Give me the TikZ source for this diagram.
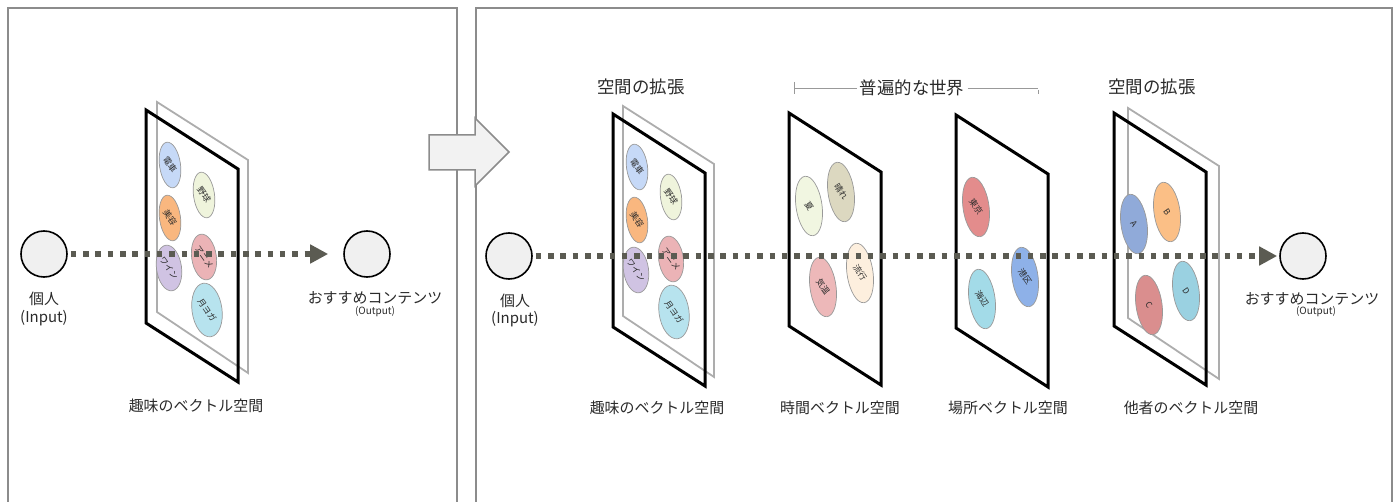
\documentclass[tikz,border=0pt]{standalone}
\usepackage{fontspec}
\newfontfamily\jp{Noto Sans CJK JP}
\usetikzlibrary{shapes.geometric,arrows.meta}
\definecolor{dashgray}{HTML}{5B5B52}
\definecolor{txt}{HTML}{2A2A2A}
\definecolor{cDen}{HTML}{C6D9F7}
\definecolor{cYak}{HTML}{EFF4DC}
\definecolor{cBiy}{HTML}{F9B77F}
\definecolor{cAni}{HTML}{EBB3B6}
\definecolor{cWin}{HTML}{D0C3E3}
\definecolor{cYog}{HTML}{B7E3EE}
\definecolor{cNat}{HTML}{F1F6E1}
\definecolor{cHar}{HTML}{DCD8C0}
\definecolor{cKio}{HTML}{EDB8B9}
\definecolor{cRyu}{HTML}{FDEFDE}
\definecolor{cTok}{HTML}{E38C8C}
\definecolor{cMin}{HTML}{8EB1E8}
\definecolor{cUmi}{HTML}{A3DBE8}
\definecolor{cA}{HTML}{90AAD9}
\definecolor{cB}{HTML}{FBBF86}
\definecolor{cC}{HTML}{DA8E8E}
\definecolor{cD}{HTML}{9AD1E1}
\tikzset{
    PN/.style ={draw=black!45, line width=1.5bp},
    PF/.style ={draw=black, line width=3bp, line join=miter},
    PB/.style ={draw=black!32, line width=1.8bp},
    CI/.style ={circle, minimum size=46bp, inner sep=0pt, draw=black, line width=1.6bp, fill=black!6},
    ES/.style ={ellipse, draw=black!40, line width=0.7bp, inner sep=0pt, minimum width=21bp, minimum height=46bp, rotate=8, font=\jp\fontsize{8.5}{8.5}\selectfont, text=txt},
    EB/.style ={ES, minimum width=26bp, minimum height=60bp},
    DA/.style ={draw=dashgray, line width=5.5bp, dash pattern=on 5.5bp off 6.8bp, -{Triangle[length=18bp,width=18bp]}},
    LB/.style ={font=\jp\fontsize{15}{15}\selectfont, text=txt, inner sep=0pt},
    LS/.style ={font=\jp\fontsize{10}{11}\selectfont, text=txt, inner sep=0pt},
    HD/.style ={font=\jp\fontsize{17.5}{18}\selectfont, text=txt, inner sep=3bp},
    BR/.style ={draw=black!40, line width=0.8bp}}

\begin{document}
\begin{tikzpicture}[x=1bp, y=-1bp]
        \useasboundingbox (0,0) rectangle (1399,502);
        % panels and big arrow
        \draw[PN] (8,502) -- (8,8) -- (457,8) -- (457,502);
        \draw[PN] (476,502) -- (476,8) -- (1392,8) -- (1392,502);
        \draw[PN, fill=black!5] (429,135) -- (475,135) -- (475,118) -- (509,152)
            -- (475,186) -- (475,170) -- (429,170) -- cycle;
        % back planes
        \foreach \px/\py in {157/102, 623/106, 1128/108}{
            \draw[PB, shift={(\px,\py)}] (0,0) -- (91,58) -- (91,271) -- (0,210) -- cycle;}
        % front planes
        \foreach \px/\py in {146/110, 613/114, 789/113, 956/115, 1114/113}{
            \draw[PF, shift={(\px,\py)}] (0,0) -- (92,59) -- (92,272) -- (0,213) -- cycle;}
        % left panel
        \node[CI] (inL) at (44,254) {};
        \node[CI] (outL) at (367,254) {};
        \node[LB] (inLa) at (44,299) {個人};
        \node[LB] (inLb) at (44,318) {(Input)};
        \node[LB] (outLa) at (375,298) {おすすめコンテンツ};
        \node[LS] (outLb) at (375,312) {(Output)};
        \node[ES, fill=cDen] (l1) at (170,165) {\rotatebox{-63}{電車}};
        \node[ES, fill=cYak] (l2) at (204,195) {\rotatebox{-63}{野球}};
        \node[ES, fill=cBiy] (l3) at (170,218) {\rotatebox{-63}{美容}};
        \node[ES, fill=cAni] (l4) at (204,257) {\rotatebox{-63}{アニメ}};
        \node[ES, fill=cWin] (l5) at (169,268) {\rotatebox{-63}{ワイン}};
        \node[ES, fill=cYog, minimum width=30bp, minimum height=54bp] (l6) at (207,310) {\rotatebox{-63}{月ヨガ}};
        \node[LB] (hobL) at (196,406) {趣味のベクトル空間};
        % right panel
        \node[CI] (inR) at (509,256) {};
        \node[CI] (outR) at (1303,256) {};
        \node[LB] (inRa) at (515,301) {個人};
        \node[LB] (inRb) at (515,319) {(Input)};
        \node[LB] (outRa) at (1312,299) {おすすめコンテンツ};
        \node[LS] (outRb) at (1316,312) {(Output)};
        \node[ES, fill=cDen] (h1) at (637,167) {\rotatebox{-63}{電車}};
        \node[ES, fill=cYak] (h2) at (671,197) {\rotatebox{-63}{野球}};
        \node[ES, fill=cBiy] (h3) at (637,220) {\rotatebox{-63}{美容}};
        \node[ES, fill=cAni] (h4) at (671,259) {\rotatebox{-63}{アニメ}};
        \node[ES, fill=cWin] (h5) at (636,270) {\rotatebox{-63}{ワイン}};
        \node[ES, fill=cYog, minimum width=30bp, minimum height=54bp] (h6) at (674,312) {\rotatebox{-63}{月ヨガ}};
        \node[EB, fill=cNat] (t1) at (809,206) {\rotatebox{-63}{夏}};
        \node[EB, fill=cHar] (t2) at (841,192) {\rotatebox{-63}{晴れ}};
        \node[EB, fill=cKio] (t3) at (823,287) {\rotatebox{-63}{気温}};
        \node[EB, fill=cRyu] (t4) at (860,273) {\rotatebox{-63}{流行}};
        \node[EB, fill=cTok] (p1) at (976,207) {\rotatebox{-63}{東京}};
        \node[EB, fill=cMin] (p2) at (1025,277) {\rotatebox{-63}{港区}};
        \node[EB, fill=cUmi] (p3) at (982,299) {\rotatebox{-63}{海辺}};
        \node[EB, fill=cA] (o1) at (1134,224) {\rotatebox{-63}{A}};
        \node[EB, fill=cB] (o2) at (1167,212) {\rotatebox{-63}{B}};
        \node[EB, fill=cC] (o3) at (1149,305) {\rotatebox{-63}{C}};
        \node[EB, fill=cD] (o4) at (1186,291) {\rotatebox{-63}{D}};
        % headers
        \node[HD] (hdH) at (641,87) {空間の拡張};
        \node[HD] (hdU) at (912,88) {普遍的な世界};
        \node[HD] (hdO) at (1152,87) {空間の拡張};
        \coordinate (bL) at (794,88);
        \coordinate (bR) at (1038,88);
        \draw[BR] (hdU.west) -- (bL) ++(0,-6) -- ++(0,12);
        \draw[BR, shorten <=8bp] (hdU.east) -- (bR) ++(0,-6) -- ++(0,12);
        \node[LB] (hobR) at (657,408) {趣味のベクトル空間};
        \node[LB] (tim) at (840,408) {時間ベクトル空間};
        \node[LB] (pla) at (1008,408) {場所ベクトル空間};
        \node[LB] (oth) at (1191,408) {他者のベクトル空間};
        % flows
        \draw[DA, shorten <=3bp, shorten >=15bp] (inL) -- (outL);
        \draw[DA, shorten <=3bp, shorten >=2bp] (inR) -- (outR);
\end{tikzpicture}
\end{document}
